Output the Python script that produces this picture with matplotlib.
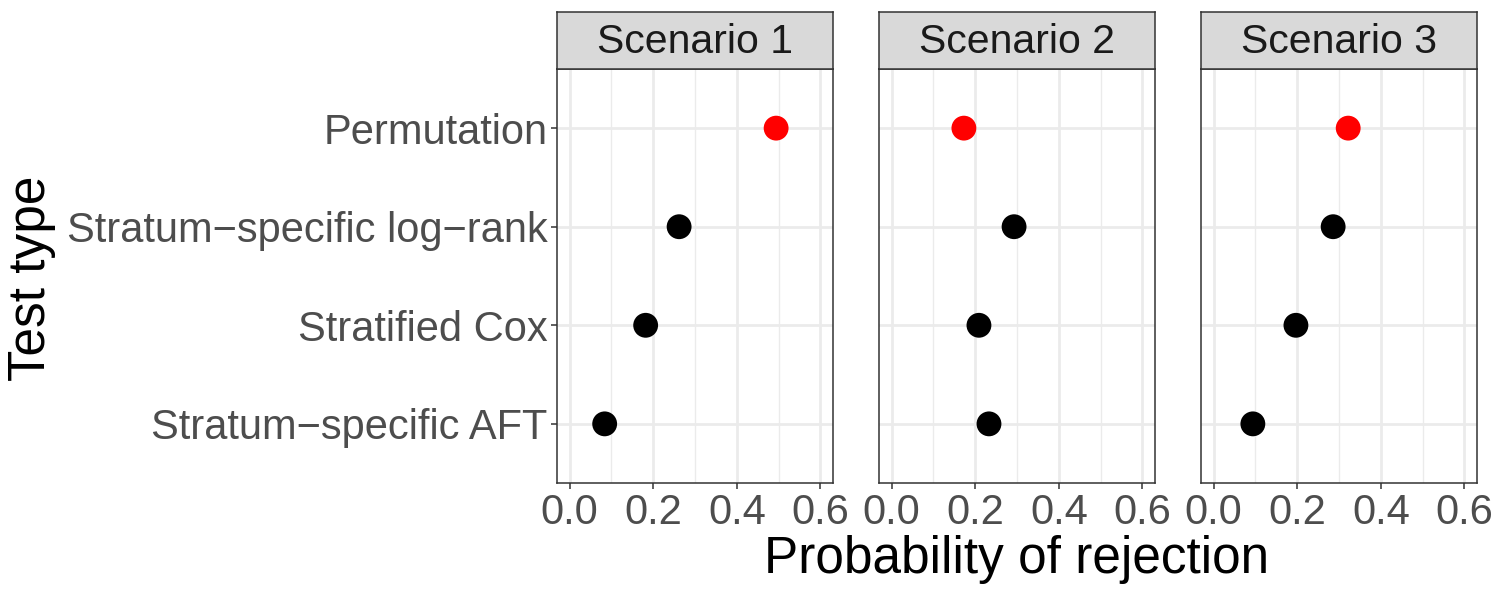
import matplotlib
matplotlib.use("Agg")
import matplotlib.pyplot as plt

plt.rcParams['font.family'] = ['Liberation Sans', 'DejaVu Sans']

# data
tests = ["Permutation", "Stratum\u2212specific log\u2212rank", "Stratified Cox", "Stratum\u2212specific AFT"]
scenarios = ["Scenario 1", "Scenario 2", "Scenario 3"]
prob_s1 = [0.494, 0.262, 0.182, 0.084]
prob_s2 = [0.173, 0.293, 0.209, 0.233]
prob_s3 = [0.322, 0.286, 0.197, 0.094]
point_colors = ["#FF0000", "black", "black", "black"]

x_ticks = [0.0, 0.2, 0.4, 0.6]
x_minor = [0.1, 0.3, 0.5]


def main():
    W, H = 1500, 600
    fig = plt.figure(figsize=(15, 6), dpi=100)

    panel_left = [557, 879, 1201]
    panel_w = 276
    top_px, bottom_px = 69, 483
    strip_top = 12

    ypos = [len(tests) - i for i in range(len(tests))]
    all_probs = [prob_s1, prob_s2, prob_s3]

    for k, (name, probs) in enumerate(zip(scenarios, all_probs)):
        left = panel_left[k] / W
        ax = fig.add_axes([left, 1 - bottom_px / H, panel_w / W, (bottom_px - top_px) / H])
        ax.set_xlim(-0.03, 0.63)
        ax.set_ylim(0.4, len(tests) + 0.6)
        ax.set_xticks(x_ticks)
        ax.set_xticks(x_minor, minor=True)
        ax.set_xticklabels([f"{v:.1f}" for v in x_ticks])
        ax.set_yticks(ypos)
        ax.grid(True, which='major', color='#EBEBEB', linewidth=2.0)
        ax.grid(True, which='minor', axis='x', color='#EBEBEB', linewidth=1.0)
        ax.set_axisbelow(True)
        for s in ax.spines.values():
            s.set_color('#333333')
            s.set_linewidth(1.1)
        ax.tick_params(axis='both', which='major', color='#333333', length=4, width=1.1,
                       labelsize=30, labelcolor='#4D4D4D', pad=3)
        ax.tick_params(axis='x', which='minor', length=0)
        if k == 0:
            ax.set_yticklabels(tests)
        else:
            ax.tick_params(axis='y', left=False, labelleft=False)

        ax.scatter(probs, ypos, s=320, c=point_colors, zorder=3, linewidths=0)

        # facet strip
        sax = fig.add_axes([left, 1 - top_px / H, panel_w / W, (top_px - strip_top) / H])
        sax.set_facecolor('#D9D9D9')
        sax.set_xticks([])
        sax.set_yticks([])
        for s in sax.spines.values():
            s.set_color('#333333')
            s.set_linewidth(1.1)
        sax.text(0.5, 0.47, name, ha='center', va='center', fontsize=29.5,
                 color='#1A1A1A', transform=sax.transAxes)

    fig.text(1017 / W, 1 - 560 / H, "Probability of rejection", ha='center', va='center',
             fontsize=37, color='black')
    fig.text(32 / W, 1 - 278 / H, "Test type", ha='center', va='center',
             fontsize=37, color='black', rotation=90)

    fig.savefig("out.png", dpi=100)


if __name__ == '__main__':
    main()
